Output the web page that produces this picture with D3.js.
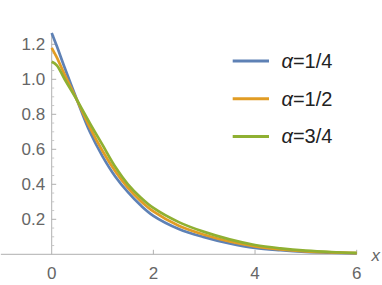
<!DOCTYPE html>
<html>
<head>
<meta charset="utf-8">
<script src="https://cdn.jsdelivr.net/npm/d3@7"></script>
<style>
  body { margin: 0; background: #fff; }
  svg { display: block; font-family: "Liberation Sans", Arial, sans-serif; }
  .tick-label { fill: #666; font-size: 17px; }
  .leg-text { fill: #222; font-size: 20px; }
</style>
</head>
<body>
<svg id="chart"></svg>
<script>
// sample points
const xs = [0, 0.1, 0.25, 0.5, 0.75, 1, 1.25, 1.5, 1.75, 2, 2.5, 3, 3.5, 4, 4.5, 5, 5.5, 6];
const alphaQuarter = [1.265, 1.19, 1.07, 0.88, 0.70, 0.56, 0.445, 0.355, 0.28, 0.22, 0.145, 0.098, 0.062, 0.036, 0.023, 0.014, 0.009, 0.0055];
const alphaHalf = [1.18, 1.125, 1.03, 0.88, 0.725, 0.59, 0.475, 0.38, 0.305, 0.245, 0.163, 0.112, 0.073, 0.045, 0.028, 0.017, 0.011, 0.0065];
const alphaThreeQuarter = [1.10, 1.08, 1.003, 0.88, 0.75, 0.625, 0.50, 0.40, 0.325, 0.265, 0.184, 0.128, 0.085, 0.053, 0.034, 0.021, 0.013, 0.008];
const seriesNames = ["1/4", "1/2", "3/4"];
const colors = ["#5E81B5", "#E19C24", "#8FB032"];
const xTicks = [0, 2, 4, 6];
const yTicks = [0.2, 0.4, 0.6, 0.8, 1.0, 1.2];

const W = 382, H = 285;
const svg = d3.select("#chart").attr("width", W).attr("height", H);

const x = d3.scaleLinear().domain([0, 6]).range([51.7, 356.7]);
const y = d3.scaleLinear().domain([0, 1.2]).range([254.3, 44.3]);

const axisColor = "#b0b0b0";

// x axis line, runs a bit left of zero
svg.append("line")
  .attr("x1", x(-1)).attr("x2", x(6))
  .attr("y1", y(0)).attr("y2", y(0))
  .attr("stroke", axisColor).attr("stroke-width", 1);

// y axis line
svg.append("line")
  .attr("x1", x(0)).attr("x2", x(0))
  .attr("y1", y(0)).attr("y2", y(1.265))
  .attr("stroke", axisColor).attr("stroke-width", 1);

// y minor ticks
const yMinor = d3.range(1, 26).map(d => d * 0.05).filter(v => !yTicks.some(t => Math.abs(t - v) < 1e-6));
svg.selectAll(".ymin").data(yMinor).enter().append("line")
  .attr("x1", x(0)).attr("x2", x(0) + 2.5)
  .attr("y1", d => y(d)).attr("y2", d => y(d))
  .attr("stroke", "#c8c8c8");

// y major ticks + labels
svg.selectAll(".ymaj").data(yTicks).enter().append("line")
  .attr("x1", x(0)).attr("x2", x(0) + 4.5)
  .attr("y1", d => y(d)).attr("y2", d => y(d))
  .attr("stroke", axisColor);
svg.selectAll(".ylab").data(yTicks).enter().append("text")
  .attr("class", "tick-label")
  .attr("x", x(0) - 6.5)
  .attr("y", d => y(d) + 6)
  .attr("text-anchor", "end")
  .text(d => d3.format(".1f")(d));

// x major ticks + labels
svg.selectAll(".xmaj").data(xTicks.filter(d => d > 0)).enter().append("line")
  .attr("x1", d => x(d)).attr("x2", d => x(d))
  .attr("y1", y(0)).attr("y2", y(0) - 4.5)
  .attr("stroke", axisColor);
svg.selectAll(".xlab").data(xTicks).enter().append("text")
  .attr("class", "tick-label")
  .attr("x", d => x(d))
  .attr("y", 279)
  .attr("text-anchor", "middle")
  .text(d => d);

svg.append("text")
  .attr("class", "tick-label")
  .attr("x", 371.5).attr("y", 261)
  .style("font-style", "italic")
  .text("x");

// curves
const allSeries = [alphaQuarter, alphaHalf, alphaThreeQuarter];
const line = d3.line()
  .x((d, i) => x(xs[i]))
  .y(d => y(d))
  .curve(d3.curveCatmullRom);

svg.selectAll(".curve").data(allSeries).enter().append("path")
  .attr("d", line)
  .attr("fill", "none")
  .attr("stroke", (d, i) => colors[i])
  .attr("stroke-width", 2.7)
  .attr("stroke-linejoin", "round");

// legend
const leg = svg.selectAll(".leg").data(seriesNames).enter().append("g")
  .attr("transform", (d, i) => "translate(0," + (61 + i * 37.7) + ")");
leg.append("line")
  .attr("x1", 232.7).attr("x2", 269)
  .attr("stroke", (d, i) => colors[i])
  .attr("stroke-width", 3);
const lt = leg.append("text")
  .attr("class", "leg-text")
  .attr("x", 281.5).attr("y", 7);
lt.append("tspan").style("font-style", "italic").text("α");
lt.append("tspan").text(d => "=" + d);
</script>
</body>
</html>
